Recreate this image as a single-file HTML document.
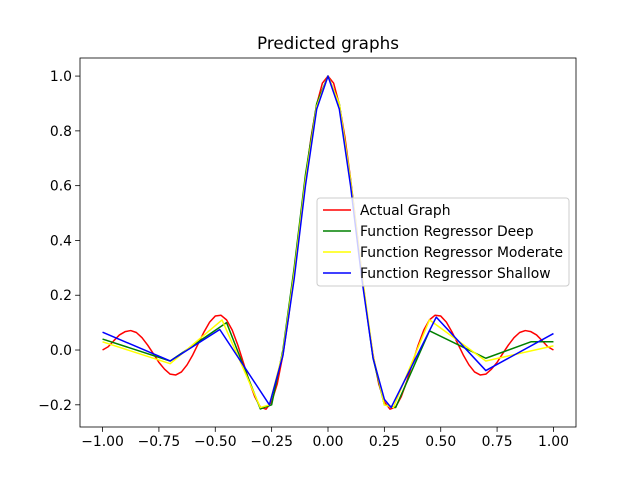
<!DOCTYPE html>
<html><head><meta charset="utf-8"><style>
body{margin:0;background:#fff}
svg{display:block;font-family:"DejaVu Sans","Liberation Sans",sans-serif}
</style></head><body>
<svg id="c" width="640" height="480"></svg>
<script>
const actualX=[-1,-0.975,-0.95,-0.925,-0.9,-0.875,-0.85,-0.825,-0.8,-0.775,-0.75,-0.725,-0.7,-0.675,-0.65,-0.625,-0.6,-0.575,-0.55,-0.525,-0.5,-0.475,-0.45,-0.425,-0.4,-0.375,-0.35,-0.325,-0.3,-0.275,-0.25,-0.225,-0.2,-0.175,-0.15,-0.125,-0.1,-0.075,-0.05,-0.025,0,0.025,0.05,0.075,0.1,0.125,0.15,0.175,0.2,0.225,0.25,0.275,0.3,0.325,0.35,0.375,0.4,0.425,0.45,0.475,0.5,0.525,0.55,0.575,0.6,0.625,0.65,0.675,0.7,0.725,0.75,0.775,0.8,0.825,0.85,0.875,0.9,0.925,0.95,0.975,1];
const actualY=[0,0.012,0.034,0.055,0.067,0.071,0.064,0.045,0.018,-0.013,-0.045,-0.07,-0.088,-0.091,-0.08,-0.054,-0.018,0.024,0.066,0.102,0.124,0.127,0.11,0.073,0.018,-0.047,-0.113,-0.17,-0.208,-0.216,-0.189,-0.123,-0.018,0.12,0.281,0.455,0.625,0.777,0.897,0.974,1,0.974,0.897,0.777,0.625,0.455,0.281,0.12,-0.018,-0.123,-0.189,-0.216,-0.208,-0.17,-0.113,-0.047,0.018,0.073,0.11,0.127,0.124,0.102,0.066,0.024,-0.018,-0.054,-0.08,-0.091,-0.088,-0.07,-0.045,-0.013,0.018,0.045,0.064,0.071,0.067,0.055,0.034,0.012,0];
const deepX=[-1,-0.7,-0.45,-0.3,-0.25,-0.2,-0.15,-0.1,-0.05,0,0.05,0.1,0.15,0.2,0.25,0.3,0.45,0.7,0.9,1];
const deepY=[0.04,-0.04,0.10,-0.215,-0.2,0.0,0.3,0.64,0.9,1.0,0.9,0.62,0.27,-0.03,-0.2,-0.21,0.07,-0.03,0.03,0.03];
const modX=[-1,-0.7,-0.47,-0.3,-0.26,-0.2,-0.15,-0.1,-0.05,0,0.05,0.1,0.15,0.2,0.25,0.29,0.45,0.7,1];
const modY=[0.03,-0.05,0.11,-0.21,-0.2,-0.01,0.28,0.62,0.89,1.0,0.9,0.62,0.28,-0.02,-0.2,-0.21,0.11,-0.04,0.015];
const shX=[-1,-0.7,-0.48,-0.26,-0.2,-0.15,-0.1,-0.05,0,0.05,0.1,0.15,0.2,0.25,0.28,0.48,0.7,1];
const shY=[0.065,-0.04,0.075,-0.2,-0.02,0.26,0.6,0.88,1.0,0.88,0.6,0.26,-0.03,-0.18,-0.21,0.12,-0.075,0.06];
const xTicks=[-1,-0.75,-0.5,-0.25,0,0.25,0.5,0.75,1];
const xTickLabels=["−1.00","−0.75","−0.50","−0.25","0.00","0.25","0.50","0.75","1.00"];
const yTicks=[-0.2,0,0.2,0.4,0.6,0.8,1.0];
const yTickLabels=["−0.2","0.0","0.2","0.4","0.6","0.8","1.0"];
const seriesNames=["Actual Graph","Function Regressor Deep","Function Regressor Moderate","Function Regressor Shallow"];
const L=80,R=576,T=58,B=427,x0=-1.1,x1=1.1,y0=-0.281,y1=1.066;
const sx=v=>L+(v-x0)/(x1-x0)*(R-L), sy=v=>B-(v-y0)/(y1-y0)*(B-T);
const svg=document.getElementById('c'),NS="http://www.w3.org/2000/svg";
function mk(t,a,p){const e=document.createElementNS(NS,t);for(const k in a)e.setAttribute(k,a[k]);(p||svg).appendChild(e);return e;}
const t=mk('text',{x:328,y:49,'text-anchor':'middle','font-size':'16.8'});t.textContent="Predicted graphs";


xTicks.forEach((v,i)=>{const g=mk('g',{});


mk('line',{x1:sx(v),x2:sx(v),y1:B,y2:B+4.9,stroke:'#000','stroke-width':0.8},g);
const tx=mk('text',{x:sx(v),y:B+19,'text-anchor':'middle','font-size':'13.9'},g);tx.textContent=xTickLabels[i];});
yTicks.forEach((v,i)=>{const g=mk('g',{});


mk('line',{x1:L-4.9,x2:L,y1:sy(v),y2:sy(v),stroke:'#000','stroke-width':0.8},g);
const tx=mk('text',{x:L-8,y:sy(v)+5,'text-anchor':'end','font-size':'13.9'},g);tx.textContent=yTickLabels[i];});
const colors=['red','green','yellow','blue'];
[[actualX,actualY],[deepX,deepY],[modX,modY],[shX,shY]].forEach((s,k)=>{
const p=mk('polyline',{points:s[0].map((x,i)=>sx(x)+','+sy(s[1][i])).join(' '),fill:'none',stroke:colors[k],'stroke-width':1.5,'stroke-linejoin':'round'});

});
const fr=mk('rect',{x:L,y:T,width:R-L,height:B-T,fill:'none',stroke:'#000','stroke-width':0.8});


const lg=mk('g',{});


mk('rect',{x:317,y:198,width:252,height:88,rx:3,fill:'#fff','fill-opacity':0.8,stroke:'#ccc'},lg);
seriesNames.forEach((n,i)=>{const y=210+i*21;const g=mk('g',{},lg);


mk('line',{x1:323,x2:351,y1:y,y2:y,stroke:colors[i],'stroke-width':1.5},g);
const tx=mk('text',{x:360,y:y+5,'font-size':'13.9'},g);tx.textContent=n;});
</script>
</body></html>
